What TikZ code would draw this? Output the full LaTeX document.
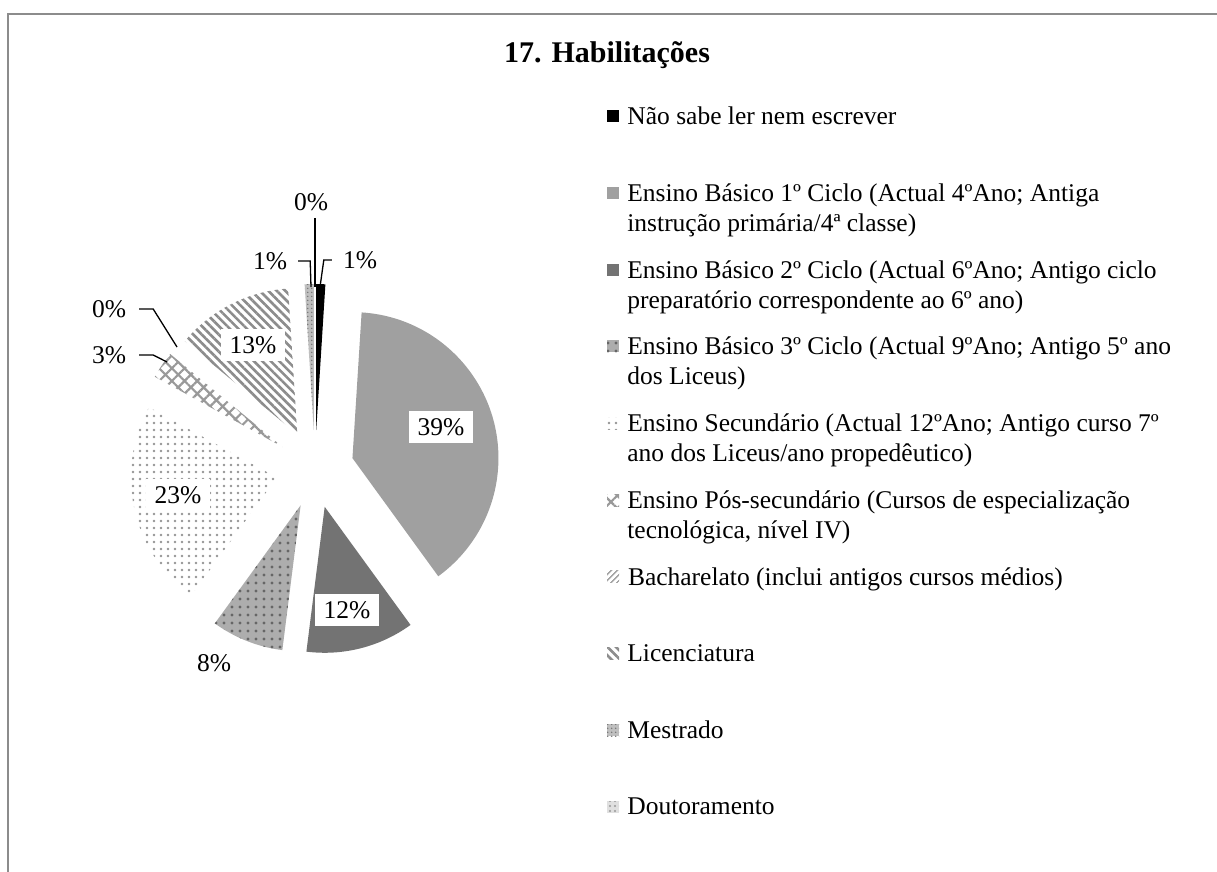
\documentclass[tikz,border=0pt]{standalone}
\usepackage{fontspec}
\setmainfont{Liberation Serif}
\usetikzlibrary{
    positioning,
    patterns.meta
}
\definecolor{pieGray}{HTML}{A0A0A0}
\definecolor{pieDark}{HTML}{737373}
\definecolor{frameGray}{HTML}{8C8C8C}
\def\prad{146}
\def\pexp{39}
\newcommand\lblfont{\fontsize{25.5}{30}\selectfont}
\tikzset{
    frame/.style={
        draw=frameGray,
        line width=1.5pt
    },
    charttitle/.style={
        font=\fontsize{30}{36}\selectfont\bfseries,
        inner sep=0pt
    },
    nsfill/.style={fill=black},
    c1fill/.style={fill=pieGray},
    c2fill/.style={fill=pieDark},
    c3fill/.style={
        preaction={fill=black!32},
        pattern={Dots[distance=8pt,radius=1.6pt]},
        pattern color=black!60
    },
    secfill/.style={
        pattern={Dots[distance=7pt,radius=1.4pt]},
        pattern color=black!42
    },
    posfill/.style={
        pattern={Hatch[angle=45,distance=9pt,line width=2.2pt]},
        pattern color=black!40
    },
    bachfill/.style={
        pattern={Lines[angle=45,distance=4pt,line width=1.6pt]},
        pattern color=black!35
    },
    licfill/.style={
        pattern={Lines[angle=-45,distance=6pt,line width=2.6pt]},
        pattern color=black!45
    },
    mestfill/.style={
        preaction={fill=black!25},
        pattern={Dots[distance=4pt,radius=0.9pt]},
        pattern color=black!55
    },
    doutfill/.style={
        preaction={fill=black!12},
        pattern={Dots[distance=5pt,radius=1.2pt]},
        pattern color=black!40
    },
    inlbl/.style={
        fill=white,
        font=\lblfont,
        inner xsep=9pt,
        inner ysep=7pt
    },
    outlbl/.style={
        font=\lblfont,
        inner sep=1pt
    },
    leader/.style={
        draw=black,
        line width=1.3pt
    },
    legmark/.style={
        minimum size=12pt,
        inner sep=0pt
    },
    legtext/.style={
        font=\lblfont,
        align=left,
        inner sep=0pt
    },
}

\begin{document}
\begin{tikzpicture}[x=1pt, y=1pt]
    \useasboundingbox (0,0) rectangle (1217,-871);
    \draw[frame] (8,-875) -- (8,-14) -- (1220,-14);

    \node[charttitle] (ttl) at (607,-55) {17. Habilitações};

    % pie, slices clockwise from the top
    \begin{scope}[shift={(315,-469)}]
        \foreach \a/\b/\sty in {0/1/nsfill, 1/40/c1fill, 40/52/c2fill,
                52/60/c3fill, 60/83/secfill, 83/86/posfill, 86/86/bachfill,
                86/99/licfill, 99/100/mestfill, 100/100/doutfill}{
            \ifnum\a<\b
                \pgfmathsetmacro\aone{90-3.6*\a}
                \pgfmathsetmacro\atwo{90-3.6*\b}
                \pgfmathsetmacro\amid{(\aone+\atwo)/2}
                \path[\sty] (\amid:\pexp) -- ++(\aone:\prad)
                    arc[start angle=\aone, end angle=\atwo, radius=\prad] -- cycle;
            \fi
        }
    \end{scope}

    % data labels
    \node[inlbl] (l39) at (441,-427) {39\%};
    \node[inlbl] (l12) at (347,-610) {12\%};
    \node[inlbl] (l13) at (253,-345) {13\%};
    \node[inlbl] (l23) at (178,-495) {23\%};
    \node[outlbl] (l8) at (214,-663) {8\%};
    \node[outlbl] (lDout) at (311,-202) {0\%};
    \node[outlbl] (lNS) at (360,-260) {1\%};
    \node[outlbl] (lMest) at (270,-261) {1\%};
    \node[outlbl] (lBach) at (109,-309) {0\%};
    \node[outlbl] (lPos) at (109,-355) {3\%};

    \coordinate (tDout) at (315,-287);
    \coordinate (tNS) at (320,-287);
    \coordinate (tMest) at (311,-287);
    \coordinate (tBach) at (177,-347);
    \coordinate (tPos) at (167,-362);

    \draw[leader, shorten <=6pt] (lDout.south -| tDout) -- (tDout);
    \draw[leader, shorten <=10pt] (lNS.west) -- ++(-18,0) -- (tNS);
    \draw[leader, shorten <=10pt] (lMest.east) -- ++(22,0) -- (tMest);
    \draw[leader, shorten <=12pt] (lBach.east) -- ++(26,0) -- (tBach);
    \draw[leader, shorten <=12pt] (lPos.east) -- ++(26,0) -- (tPos);

    % legend
    \foreach \i/\sty/\txt in {
            1/nsfill/{Não sabe ler nem escrever},
            2/c1fill/{Ensino Básico 1º Ciclo (Actual 4ºAno; Antiga\\instrução primária/4ª classe)},
            3/c2fill/{Ensino Básico 2º Ciclo (Actual 6ºAno; Antigo ciclo\\preparatório correspondente ao 6º ano)},
            4/c3fill/{Ensino Básico 3º Ciclo (Actual 9ºAno; Antigo 5º ano\\dos Liceus)},
            5/secfill/{Ensino Secundário (Actual 12ºAno; Antigo curso 7º\\ano dos Liceus/ano propedêutico)},
            6/posfill/{Ensino Pós-secundário (Cursos de especialização\\tecnológica, nível IV)},
            7/bachfill/{Bacharelato (inclui antigos cursos médios)},
            8/licfill/{Licenciatura},
            9/mestfill/{Mestrado},
            10/doutfill/{Doutoramento}}{
        \pgfmathsetmacro\ly{116+76.8*(\i-1)}
        \node[legmark, \sty] (m\i) at (613,-\ly) {};
        \node[legtext, right=8pt of m\i, anchor=north west, yshift=9.5pt] (t\i) {\txt};
    }
\end{tikzpicture}
\end{document}
